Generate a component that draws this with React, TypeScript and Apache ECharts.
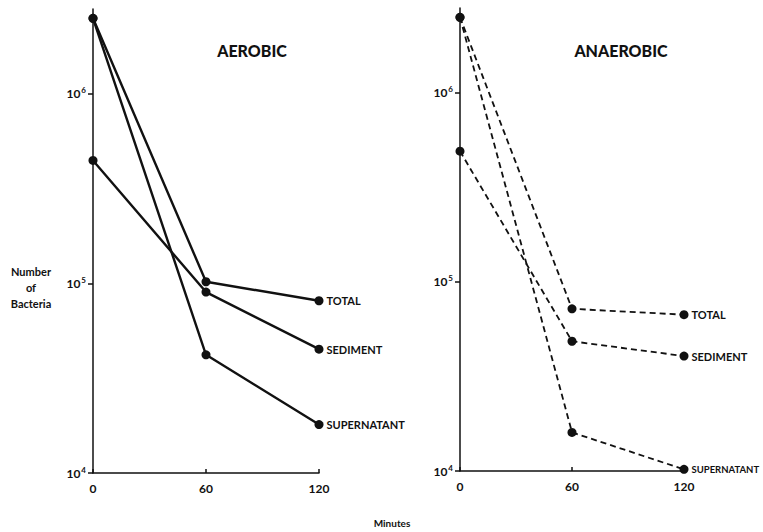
import React, { useEffect, useRef } from "react";
import * as echarts from "echarts";

const minutes = [0, 60, 120];
const minuteTicks = ["0", "60", "120"];
const yTickValues = [1e4, 1e5, 1e6];
const seriesNames = ["TOTAL", "SEDIMENT", "SUPERNATANT"];

const aerobicTotal = [2.5e6, 1.02e5, 8.1e4];
const aerobicSediment = [4.45e5, 9.0e4, 4.5e4];
const aerobicSupernatant = [2.5e6, 4.2e4, 1.8e4];

const anaerobicTotal = [2.5e6, 7.2e4, 6.7e4];
const anaerobicSediment = [4.9e5, 4.85e4, 4.05e4];
const anaerobicSupernatant = [2.5e6, 1.6e4, 1.02e4];

const panelTitles = ["AEROBIC", "ANAEROBIC"];
const yAxisTitle = "Number\nof\nBacteria";
const xAxisTitle = "Minutes";

const FONT = "Lato";

function buildSeries(values: number[], name: string, axisIndex: number, dashed: boolean, labelSize = 11) {
  return {
    type: "line",
    name,
    xAxisIndex: axisIndex,
    yAxisIndex: axisIndex,
    clip: false,
    symbol: "circle",
    symbolSize: 9,
    itemStyle: { color: "#111" },
    lineStyle: {
      color: "#111",
      width: dashed ? 1.8 : 2.4,
      type: dashed ? [6, 4] : "solid",
    },
    data: values.map((v, i) => {
      const item: any = { value: [minutes[i], v] };
      if (i === values.length - 1) {
        item.label = {
          show: true,
          position: "right",
          distance: 3,
          formatter: name,
          color: "#111",
          fontFamily: FONT,
          fontWeight: "bold",
          fontSize: labelSize,
        };
      }
      return item;
    }),
  };
}

function yAxis(gridIndex: number) {
  return {
    type: "log",
    logBase: 10,
    gridIndex,
    min: 1e4,
    max: 2.8e6,
    splitLine: { show: false },
    minorTick: { show: false },
    axisLine: { show: true, lineStyle: { color: "#111", width: 1.5 } },
    axisTick: {
      show: true,
      length: 5,
      customValues: yTickValues,
      lineStyle: { color: "#111", width: 1.5 },
    },
    axisLabel: {
      margin: 7,
      customValues: yTickValues,
      formatter: (v: number) => `{b|10}{s|${Math.round(Math.log10(v))}}`,
      rich: {
        b: { fontFamily: FONT, fontWeight: "bold", fontSize: 12, color: "#111" },
        s: {
          fontFamily: FONT,
          fontWeight: "bold",
          fontSize: 8,
          color: "#111",
          verticalAlign: "top",
          padding: [0, 0, 7, 1],
        },
      },
    },
  };
}

function xAxis(gridIndex: number) {
  return {
    type: "value",
    gridIndex,
    min: 0,
    max: 120,
    interval: 60,
    splitLine: { show: false },
    axisLine: { show: true, onZero: false, lineStyle: { color: "#111", width: 1.5 } },
    axisTick: { show: true, inside: true, length: 4, lineStyle: { color: "#111", width: 1.5 } },
    axisLabel: {
      margin: 9,
      fontFamily: FONT,
      fontWeight: "bold",
      fontSize: 12,
      color: "#111",
      formatter: (v: number) => minuteTicks[minutes.indexOf(v)] ?? String(v),
    },
  };
}

export default function App() {
  const ref = useRef<HTMLDivElement>(null);
  useEffect(() => {
    if (!ref.current) return;
    const chart = echarts.init(ref.current, undefined, { renderer: "svg" });
    chart.setOption({
      animation: false,
      backgroundColor: "#fff",
      title: [
        {
          text: panelTitles[0],
          left: 247,
          top: 37,
          textAlign: "center",
          textStyle: { fontFamily: FONT, fontWeight: 900, fontSize: 16, color: "#111" },
        },
        {
          text: panelTitles[1],
          left: 616,
          top: 37,
          textAlign: "center",
          textStyle: { fontFamily: FONT, fontWeight: 900, fontSize: 16, color: "#111" },
        },
      ],
      grid: [
        { left: 93, top: 9, width: 226, height: 464 },
        { left: 460, top: 8, width: 224, height: 463 },
      ],
      xAxis: [xAxis(0), xAxis(1)],
      yAxis: [yAxis(0), yAxis(1)],
      graphic: [
        {
          type: "text",
          x: 31,
          y: 263,
          style: {
            text: yAxisTitle,
            fontFamily: FONT,
            fontWeight: "bold",
            fontSize: 11,
            lineHeight: 16,
            fill: "#111",
            align: "center",
            verticalAlign: "top",
          },
        },
        {
          type: "text",
          x: 392,
          y: 523,
          style: {
            text: xAxisTitle,
            fontFamily: FONT,
            fontWeight: "bold",
            fontSize: 10,
            fill: "#111",
            align: "center",
            verticalAlign: "middle",
          },
        },
      ],
      series: [
        buildSeries(aerobicTotal, seriesNames[0], 0, false),
        buildSeries(aerobicSediment, seriesNames[1], 0, false),
        buildSeries(aerobicSupernatant, seriesNames[2], 0, false),
        buildSeries(anaerobicTotal, seriesNames[0], 1, true),
        buildSeries(anaerobicSediment, seriesNames[1], 1, true),
        buildSeries(anaerobicSupernatant, seriesNames[2], 1, true, 9.5),
      ],
    });
    return () => chart.dispose();
  }, []);
  return (
    <div
      ref={ref}
      style={{ position: "fixed", left: 0, top: 0, width: 763, height: 532, background: "#fff" }}
    />
  );
}
